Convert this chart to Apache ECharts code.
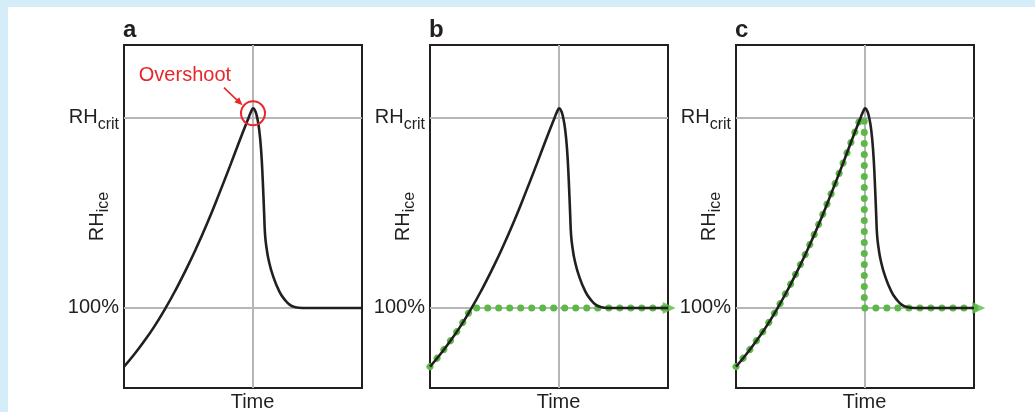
<!DOCTYPE html>
<html>
<head>
<meta charset="utf-8">
<script src="https://cdn.jsdelivr.net/npm/echarts@6/dist/echarts.min.js"></script>
<style>
  html, body { margin: 0; padding: 0; width: 1035px; height: 412px; background: #d4edf9; overflow: hidden; }
  #chart { position: absolute; left: 8px; top: 7px; width: 1027px; height: 405px; background: #ffffff; }
</style>
</head>
<body>
<div id="chart"></div>
<script>
// RH_ice evolution over time (arbitrary time units 0-100, RH in %)
const curveTime = [0, 4, 8, 12.5, 17.5, 22, 26, 30, 35, 40, 45, 49, 52.4, 53.6, 54.3, 55.2, 56, 56.8, 57.6, 58.3, 58.9, 59.3, 60, 60.8, 62.5, 65.3, 67.5, 69.7, 72, 75, 100];
const curveRH   = [84.6, 87.6, 90.9, 94.9, 100, 105.1, 110, 115.2, 122.3, 130, 138, 144.6, 150, 151.8, 152.4, 151.6, 149.8, 146.8, 141.5, 133.5, 124.5, 119, 115.3, 112.5, 108.6, 104.3, 102.2, 100.8, 100.2, 100, 100];

// panel b: ice holds RH at saturation once it is reached
const pathBTime = [0, 4, 8, 12.5, 17.5, 100.5];
const pathBRH   = [84.6, 87.6, 90.9, 94.9, 100, 100];

// panel c: follows the curve up to RH_crit, then drops to saturation
const pathCTime = [0, 4, 8, 12.5, 17.5, 22, 26, 30, 35, 40, 45, 49, 52.4, 53.9, 53.9, 102];
const pathCRH   = [84.6, 87.6, 90.9, 94.9, 100, 105.1, 110, 115.2, 122.3, 130, 138, 144.6, 150, 149.5, 100, 100];

const panelLabels = ['a', 'b', 'c'];
const yTickValues = [100, 150];
const yTickLabels = ['100%', '{m|RH}{s|crit}'];
const timeTick = 54;

const INK = '#231f20';
const GRIDC = '#b5b6b8';
const GREEN = '#5cb947';
const RED = '#e8262b';
const FONT = '"Liberation Sans", Arial, Helvetica, sans-serif';

const zip = (xs, ys) => xs.map((x, i) => [x, ys[i]]);
const curve = zip(curveTime, curveRH);
const greenPaths = [null, zip(pathBTime, pathBRH), zip(pathCTime, pathCRH)];

const gridLefts = [116, 422, 728];

const richSub = {
  m: { fontFamily: FONT, fontSize: 20, color: INK, lineHeight: 22 },
  s: { fontFamily: FONT, fontSize: 16, color: INK, lineHeight: 30, verticalAlign: 'bottom' }
};

const grids = [], xAxes = [], yAxes = [], series = [], titles = [];

panelLabels.forEach((lab, i) => {
  grids.push({
    left: gridLefts[i], top: 38, width: 238, height: 343,
    show: true, borderColor: INK, borderWidth: 2, backgroundColor: 'transparent',
    outerBoundsMode: 'none', containLabel: false
  });
  titles.push({
    text: lab, left: gridLefts[i] - 1, top: 11, padding: 0,
    textStyle: { fontFamily: FONT, fontWeight: 'bold', fontSize: 24, color: INK }
  });
  xAxes.push({
    gridIndex: i, type: 'value', min: 0, max: 100,
    axisLine: { show: false },
    axisTick: { show: false, customValues: [timeTick] },
    axisLabel: {
      customValues: [timeTick], formatter: () => 'Time',
      fontFamily: FONT, fontSize: 20, color: INK, margin: 4
    },
    splitLine: { show: true, lineStyle: { color: GRIDC, width: 2 } }
  });
  yAxes.push({
    gridIndex: i, type: 'value', min: 79, max: 169,
    name: '{m|RH}{s|ice}', nameLocation: 'middle', nameRotate: 90, nameGap: 12,
    nameMoveOverlap: false,
    nameTextStyle: { fontFamily: FONT, color: INK, rich: richSub },
    axisLine: { show: false },
    axisTick: { show: false, customValues: yTickValues },
    axisLabel: {
      customValues: yTickValues,
      formatter: v => yTickLabels[yTickValues.indexOf(v)],
      fontFamily: FONT, fontSize: 20, color: INK, margin: 5,
      rich: richSub
    },
    splitLine: { show: true, lineStyle: { color: GRIDC, width: 2 } }
  });

  if (greenPaths[i]) {
    const path = greenPaths[i];
    series.push({
      type: 'line', xAxisIndex: i, yAxisIndex: i, data: path,
      symbol: 'none', clip: false, silent: true, z: 3,
      lineStyle: { color: GREEN, width: 7, type: [0.01, 11], cap: 'round', join: 'round' }
    });
    series.push({
      type: 'scatter', xAxisIndex: i, yAxisIndex: i, data: [path[path.length - 1]],
      symbol: 'triangle', symbolRotate: -90, symbolSize: [12, 13],
      itemStyle: { color: GREEN }, clip: false, silent: true, z: 3
    });
  }

  const black = {
    type: 'line', xAxisIndex: i, yAxisIndex: i, data: curve,
    symbol: 'none', smooth: 0.5, clip: false, silent: true, z: 4,
    lineStyle: { color: INK, width: 2.6 }
  };
  if (i === 0) {
    black.markPoint = {
      silent: true,
      data: [
        { coord: [54.2, 151.1], symbol: 'circle', symbolSize: 24,
          itemStyle: { color: 'rgba(0,0,0,0)', borderColor: RED, borderWidth: 2 },
          label: { show: false } },
        { coord: [25.6, 161.1], symbol: 'circle', symbolSize: 0,
          itemStyle: { color: 'rgba(0,0,0,0)' },
          label: { show: true, position: 'inside', formatter: 'Overshoot',
                   fontFamily: FONT, fontSize: 20, color: RED } }
      ]
    };
    black.markLine = {
      silent: true, symbol: ['none', 'triangle'], symbolSize: [7, 8],
      label: { show: false },
      lineStyle: { color: RED, width: 1.6, type: 'solid' },
      data: [[{ coord: [42, 157.8] }, { coord: [48.6, 153.9] }]]
    };
  }
  series.push(black);
});

const chart = echarts.init(document.getElementById('chart'), null, { renderer: 'canvas' });
chart.setOption({
  animation: false,
  backgroundColor: '#ffffff',
  title: titles,
  grid: grids,
  xAxis: xAxes,
  yAxis: yAxes,
  series: series
});
</script>
</body>
</html>
